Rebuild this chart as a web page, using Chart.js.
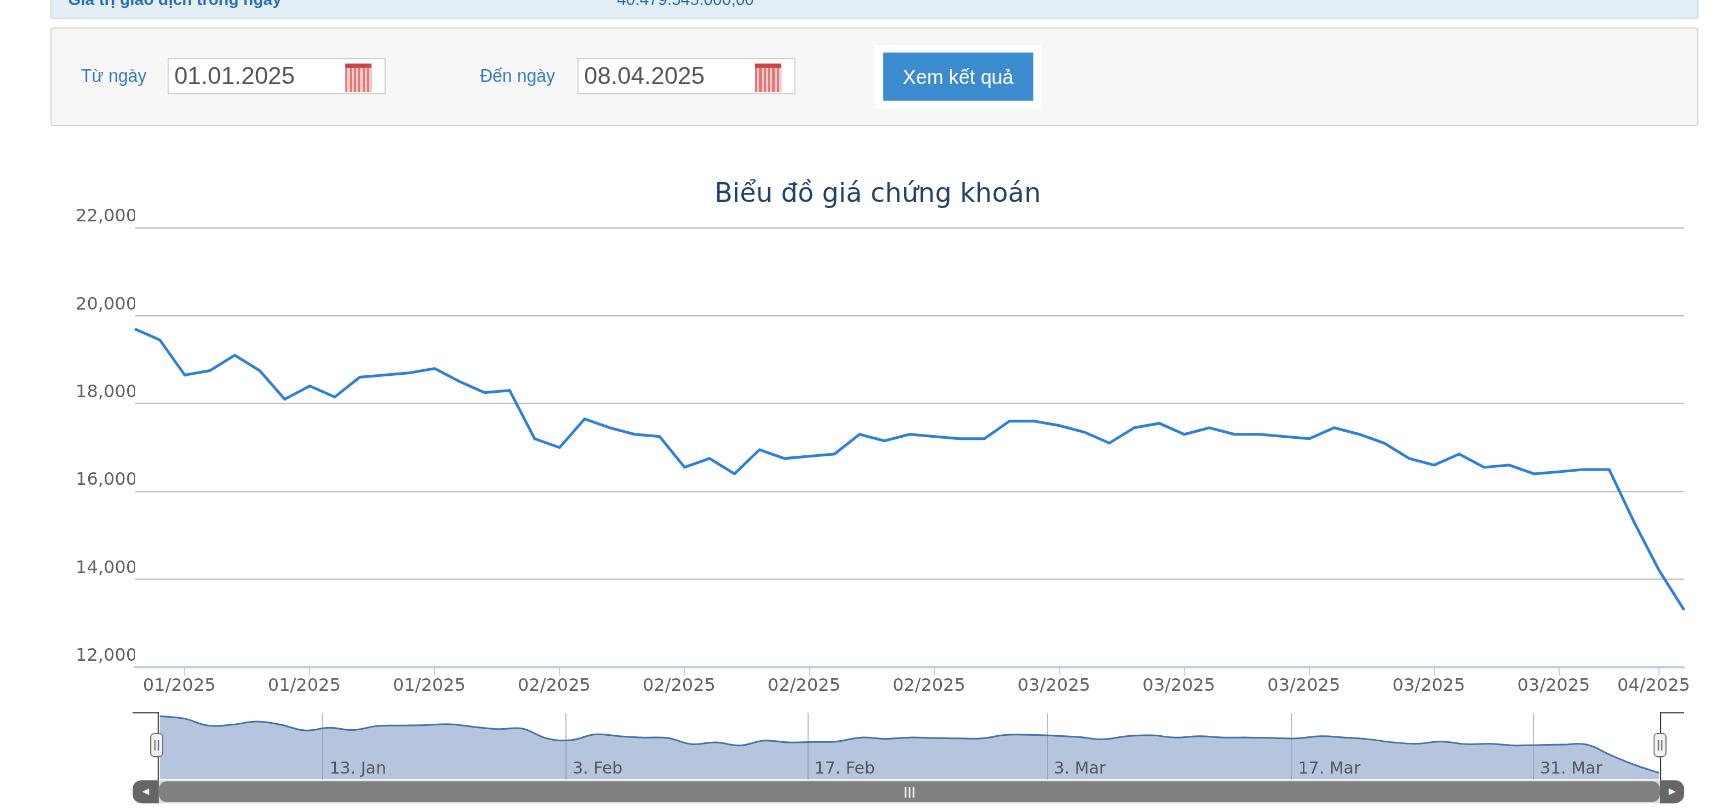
<!DOCTYPE html>
<html><head><meta charset="utf-8">
<script src="https://cdn.jsdelivr.net/npm/chart.js@4/dist/chart.umd.min.js"></script>
<style>
html,body{margin:0;padding:0;background:#fff;overflow:hidden;width:1718px;height:809px}
#wrap{position:absolute;left:0;top:0;width:1568px;height:738px;transform:scale(1.0957);transform-origin:0 0;font-family:"DejaVu Sans",sans-serif}
.abs{position:absolute}
.lbl{color:#3a7bc8;font-size:16px;font-family:"Liberation Sans Narrow","Liberation Sans",Arial,sans-serif}
.inp{background:#fff;border:1px solid #ccc;height:33px;width:199px;box-sizing:border-box;font-family:"Liberation Sans Narrow","Liberation Sans",Arial,sans-serif;font-size:22px;color:#555;padding:3px 0 0 5px}
.cal{position:absolute;right:12px;top:4px;width:24px;height:22px;background:repeating-linear-gradient(90deg,#e07a7a 0 2px,#f6c9c9 2px 4px);border-top:4px solid #c44}
</style></head><body>
<div id="wrap">
  <div class="abs" style="left:46px;top:-4px;width:1504px;height:21px;background:#e3eef7;border:1px solid #c7dbec;box-sizing:border-box"></div>
  <div class="abs" style="left:62px;top:-9px;font-weight:bold;color:#2a6eb5;font-size:15px;font-family:'Liberation Sans',Arial">Giá trị giao dịch trong ngày</div>
  <div class="abs" style="left:563px;top:-9px;color:#2a6eb5;font-size:15px;font-family:'Liberation Sans',Arial">40.479.545.000,00</div>
  <div class="abs" style="left:46px;top:25px;width:1504px;height:90px;background:#f7f7f7;border:1px solid #d0d0d0;border-radius:3px;box-sizing:border-box"></div>
  <div class="abs lbl" style="left:74px;top:61px">Từ ngày</div>
  <div class="abs inp" style="left:153px;top:53px">01.01.2025<div class="cal"></div></div>
  <div class="abs lbl" style="left:438px;top:61px">Đến ngày</div>
  <div class="abs inp" style="left:527px;top:53px">08.04.2025<div class="cal"></div></div>
  <div class="abs" style="left:798px;top:41px;width:153px;height:58px;background:#fff"></div>
  <div class="abs" style="left:806px;top:48px;width:137px;height:44px;background:#3d8bcf;color:#fff;font-size:18px;font-family:'Liberation Sans Narrow','Liberation Sans',Arial;text-align:center;line-height:46px">Xem kết quả</div>
  <div class="abs" style="left:652px;top:162px;font-size:24px;color:#22426b;white-space:nowrap">Biểu đồ giá chứng khoán</div>
  <div class="abs" style="left:0;top:140px;width:1545px;height:496px"><canvas id="main"></canvas></div>
  <!-- navigator -->
  <div class="abs" style="left:121px;top:650px;width:24px;height:1px;background:#333"></div>
  <div class="abs" style="left:144px;top:650px;width:1px;height:62px;background:#333"></div>
  <div class="abs" style="left:1515px;top:650px;width:22px;height:1px;background:#333"></div>
  <div class="abs" style="left:1515px;top:650px;width:1px;height:62px;background:#333"></div>
  <div class="abs" style="left:145px;top:650px;width:1370px;height:62px"><canvas id="nav"></canvas></div>
  <div class="abs" style="left:137px;top:669px;width:12px;height:22px;background:#f2f2f2;border:1px solid #666;border-radius:4px;box-sizing:border-box;font-size:9px;text-align:center;line-height:20px;color:#333">||</div>
  <div class="abs" style="left:1509px;top:669px;width:12px;height:22px;background:#f2f2f2;border:1px solid #666;border-radius:4px;box-sizing:border-box;font-size:9px;text-align:center;line-height:20px;color:#333">||</div>
  <div class="abs" style="left:121px;top:712px;width:1416px;height:21px;background:#dcdcdc;border-radius:8px"></div>
  <div class="abs" style="left:121px;top:712px;width:24px;height:21px;background:#666;border-radius:8px 0 0 8px;color:#fff;font-size:8px;line-height:21px;text-align:center">◀</div>
  <div class="abs" style="left:1515px;top:712px;width:22px;height:21px;background:#666;border-radius:0 8px 8px 0;color:#fff;font-size:8px;line-height:21px;text-align:center">▶</div>
  <div class="abs" style="left:145px;top:713px;width:1370px;height:19px;background:#808080;border-radius:7px;color:#fff;font-size:10px;line-height:19px;text-align:center;font-weight:bold">|||</div>
</div>
<script>
const prices = [19700,19450,18650,18750,19100,18750,18100,18400,18150,18600,18650,18700,18800,18500,18250,18300,
17200,17000,17650,17450,17300,17250,16550,16750,16400,16950,16750,16800,16850,17300,17150,17300,17250,17200,17200,
17600,17600,17500,17350,17100,17450,17550,17300,17450,17300,17300,17250,17200,17450,17300,17100,16750,16600,16850,
16550,16600,16400,16450,16500,16500,15300,14200,13300];
const tickIdx = [2,7,12,17,22,27,32,37,42,47,52,57,61];
const tickLabels = ['01/2025','01/2025','01/2025','02/2025','02/2025','02/2025','02/2025','03/2025','03/2025','03/2025','03/2025','03/2025','04/2025'];
const navTicks = [6.75,16.8,26.8,36.7,46.8,56.8];
const navLabels = ['13. Jan','3. Feb','17. Feb','3. Mar','17. Mar','31. Mar'];
const yTicks = [12000,14000,16000,18000,20000,22000];

const idx = prices.map((_,i)=>i);
const tf = "DejaVu Sans";
new Chart(document.getElementById('main'),{
  type:'line',
  data:{labels:idx,datasets:[{data:prices,borderColor:'#2e7fdb',borderWidth:2.5,pointRadius:0,tension:0,fill:false}]},
  options:{responsive:true,maintainAspectRatio:false,animation:false,devicePixelRatio:2,
    layout:{padding:{top:68,right:8,left:0,bottom:0}},
    plugins:{legend:{display:false},tooltip:{enabled:false}},
    scales:{
      x:{type:'category',offset:false,
        grid:{drawOnChartArea:false,drawTicks:true,tickLength:8,color:(c)=>tickIdx.includes(c.index)?'#c0d0e0':'rgba(0,0,0,0)'},
        border:{color:'#c0d0e0',width:2},
        ticks:{autoSkip:false,maxRotation:0,padding:0,labelOffset:-5,color:'#606060',font:{family:tf,size:16},
          callback:(v,i)=>{const k=tickIdx.indexOf(i);return k>=0?tickLabels[k]:'';}}},
      y:{min:12000,max:22000,
        afterBuildTicks:(s)=>{s.ticks=yTicks.map(v=>({value:v}));},
        afterFit:(s)=>{s.width=123;},
        grid:{color:'#c0c0c0',drawTicks:false,lineWidth:1.2},
        border:{display:false},
        ticks:{padding:-2,labelOffset:-10,color:'#606060',font:{family:tf,size:16},
          callback:(v)=>v.toLocaleString('en-US')}}
    }}
});

const navLabelPlugin={id:'navLabels',afterDraw(ch){const s=ch.scales.x,ctx=ch.ctx;ctx.save();ctx.fillStyle='#555';ctx.font='15px "DejaVu Sans"';ctx.textBaseline='alphabetic';
  navTicks.forEach((v,i)=>ctx.fillText(navLabels[i],s.getPixelForValue(v)+6,ch.height-6));ctx.restore();}};
new Chart(document.getElementById('nav'),{
  type:'line',
  data:{datasets:[{data:prices.map((v,i)=>({x:i,y:v})),borderColor:'#4572a7',borderWidth:1.5,backgroundColor:'rgba(120,150,195,0.55)',fill:'start',pointRadius:0,tension:0.4}]},
  options:{responsive:true,maintainAspectRatio:false,animation:false,devicePixelRatio:2,
    layout:{padding:0},
    plugins:{legend:{display:false},tooltip:{enabled:false}},
    scales:{
      x:{type:'linear',min:0,max:62,display:true,
        afterBuildTicks:(s)=>{s.ticks=navTicks.map(v=>({value:v}));},
        afterFit:(s)=>{s.height=0;},
        grid:{color:'#bbb',drawTicks:false},border:{display:false},ticks:{display:false}},
      y:{min:12575,max:20062,display:false}
    }},
  plugins:[navLabelPlugin]
});
</script>
</body></html>
